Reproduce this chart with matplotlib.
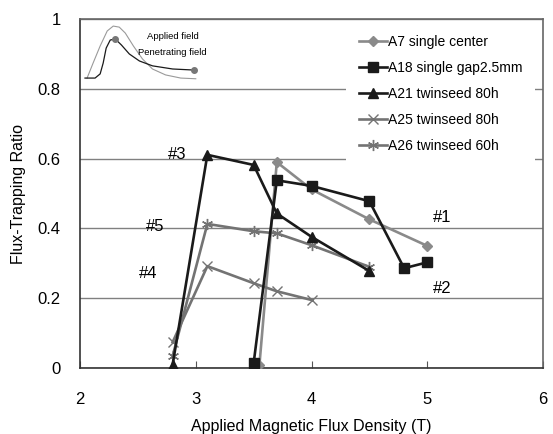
import matplotlib
matplotlib.use("Agg")
import matplotlib.pyplot as plt

plt.rcParams['font.family'] = ['Liberation Sans', 'DejaVu Sans']

# Measured series (applied field in T, flux-trapping ratio)
a7_x = [3.55, 3.7, 4.0, 4.5, 5.0]
a7_y = [0.01, 0.59, 0.512, 0.426, 0.35]

a18_x = [3.5, 3.7, 4.0, 4.5, 4.8, 5.0]
a18_y = [0.014, 0.538, 0.522, 0.478, 0.286, 0.303]

a21_x = [2.8, 3.1, 3.5, 3.7, 4.0, 4.5]
a21_y = [0.01, 0.611, 0.582, 0.443, 0.376, 0.278]

a25_x = [2.8, 3.1, 3.5, 3.7, 4.0]
a25_y = [0.074, 0.292, 0.243, 0.22, 0.195]

a26_x = [2.8, 3.1, 3.5, 3.7, 4.0, 4.5]
a26_y = [0.034, 0.413, 0.392, 0.386, 0.352, 0.29]

labels = ["A7 single center", "A18 single gap2.5mm", "A21 twinseed 80h",
          "A25 twinseed 80h", "A26 twinseed 60h"]

# sample numbers written next to the curves
notes = ["#1", "#2", "#3", "#4", "#5"]
note_x = [5.13, 5.13, 2.84, 2.59, 2.65]
note_y = [0.431, 0.229, 0.611, 0.271, 0.406]

# schematic sketch in the top left corner
applied_x = [2.061, 2.113, 2.174, 2.235, 2.287, 2.339, 2.391, 2.461, 2.539,
             2.626, 2.739, 2.870, 3.0]
applied_y = [0.831, 0.874, 0.923, 0.966, 0.980, 0.977, 0.960, 0.923, 0.886,
             0.857, 0.840, 0.831, 0.829]
penet_x = [2.043, 2.130, 2.174, 2.200, 2.226, 2.261, 2.304, 2.357, 2.426,
           2.513, 2.626, 2.800, 2.983]
penet_y = [0.831, 0.831, 0.843, 0.874, 0.917, 0.940, 0.943, 0.926, 0.900,
           0.880, 0.866, 0.857, 0.854]

fig = plt.figure(figsize=(5.53, 4.34), dpi=100)
ax = fig.add_axes([0.1447, 0.152, 0.8373, 0.804])

gray = '#8a8a8a'
dgray = '#737373'
black = '#1a1a1a'
lw = 1.9

ax.plot(a7_x, a7_y, color=gray, lw=lw, marker='D', ms=5, label=labels[0], zorder=3)
ax.plot(a18_x, a18_y, color=black, lw=lw, marker='s', ms=7.5, label=labels[1], zorder=4)
ax.plot(a21_x, a21_y, color=black, lw=lw, marker='^', ms=7, label=labels[2], zorder=4)
ax.plot(a25_x, a25_y, color=dgray, lw=lw, marker='x', ms=7, mew=1.0, label=labels[3], zorder=3)
ax.plot(a26_x, a26_y, color=dgray, lw=lw, marker=(6, 2, 0), ms=8, mew=1.0, label=labels[4], zorder=3)

for t, x, y in zip(notes, note_x, note_y):
    ax.text(x, y, t, fontsize=12, ha='center', va='center', zorder=5)

# sketch
ax.plot(applied_x, applied_y, color='#9a9a9a', lw=0.8, zorder=3)
ax.plot(penet_x, penet_y, color=black, lw=0.9, zorder=3)
ax.plot([penet_x[6], penet_x[-1]], [penet_y[6], penet_y[-1]], ls='none',
        marker='o', ms=4, color='#777777', zorder=4)
ax.text(2.8, 0.951, "Applied field", fontsize=6.8, ha='center', va='center')
ax.text(2.8, 0.903, "Penetrating field", fontsize=6.8, ha='center', va='center')

ax.set_xlim(2, 6)
ax.set_ylim(0, 1)
ax.set_xticks([2, 3, 4, 5, 6])
ax.set_yticks([0, 0.2, 0.4, 0.6, 0.8, 1])
ax.set_yticklabels(['0', '0.2', '0.4', '0.6', '0.8', '1'])
ax.tick_params(axis='x', direction='in', length=5, labelsize=12, pad=17, color='#555555')
ax.tick_params(axis='y', length=0, labelsize=12, pad=14)
ax.grid(axis='y', color='#808080', lw=1.0)
ax.set_axisbelow(True)
for s in ['left', 'bottom']:
    ax.spines[s].set_color('#333333')
    ax.spines[s].set_linewidth(1.2)
for s in ['top', 'right']:
    ax.spines[s].set_color('#666666')
    ax.spines[s].set_linewidth(1.2)

ax.set_xlabel("Applied Magnetic Flux Density (T)", fontsize=11.5, labelpad=9)
ax.set_ylabel("Flux-Trapping Ratio", fontsize=11.5, labelpad=8)

leg = ax.legend(loc='upper left', bbox_to_anchor=(0.575, 0.99), fontsize=10,
                frameon=True, fancybox=False, framealpha=1, edgecolor='none',
                facecolor='white', handlelength=2.0, handletextpad=0.1,
                labelspacing=0.86, borderpad=0.9, borderaxespad=0.0)
leg.set_zorder(2.5)

fig.savefig("out.png", dpi=100)
